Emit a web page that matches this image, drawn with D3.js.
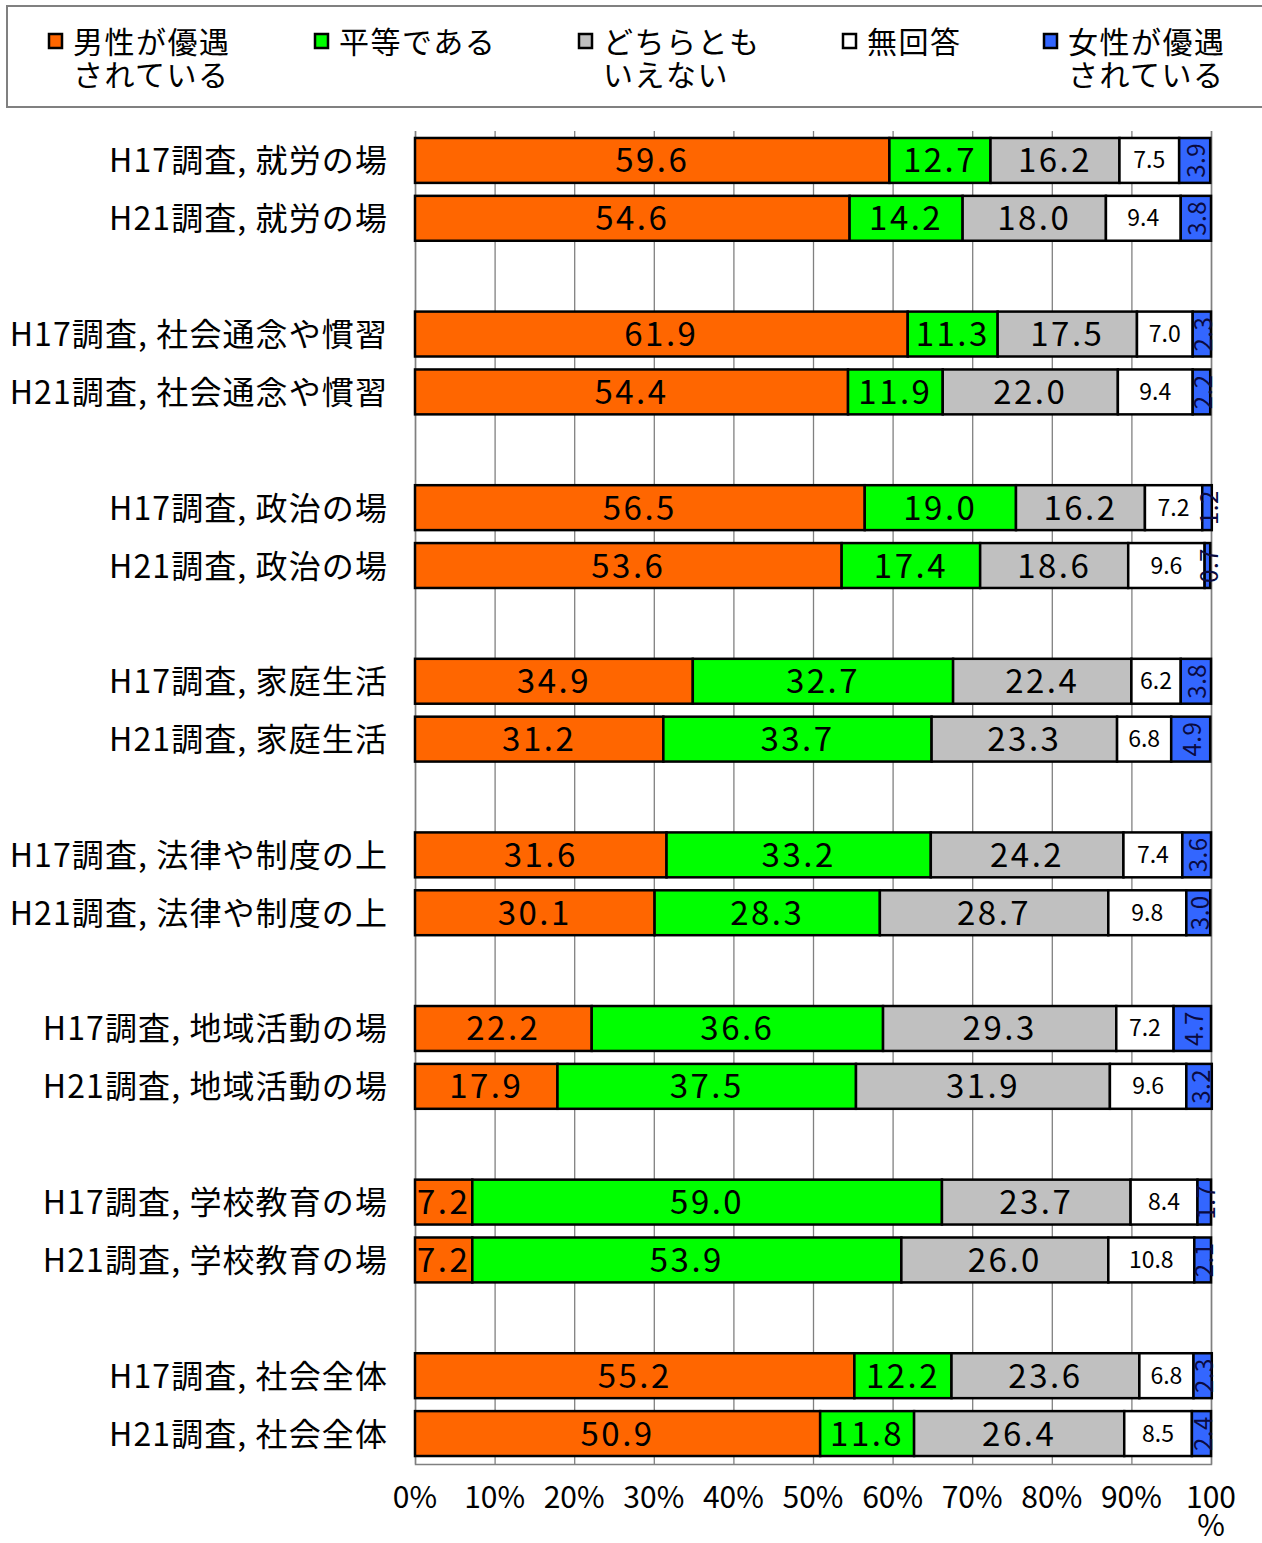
<!DOCTYPE html>
<html lang="ja">
<head>
<meta charset="utf-8">
<script src="https://cdn.jsdelivr.net/npm/d3@7"></script>
<style>
  html, body { margin: 0; padding: 0; background: #fff; }
  svg { display: block; font-family: "Noto Sans CJK JP", "Noto Sans", sans-serif; }
</style>
</head>
<body>
<svg id="chart" width="1262" height="1543"></svg>
<script>
// Survey rows (H17 / H21 pairs for each area)
const categories = [
  "H17調査, 就労の場", "H21調査, 就労の場",
  "H17調査, 社会通念や慣習", "H21調査, 社会通念や慣習",
  "H17調査, 政治の場", "H21調査, 政治の場",
  "H17調査, 家庭生活", "H21調査, 家庭生活",
  "H17調査, 法律や制度の上", "H21調査, 法律や制度の上",
  "H17調査, 地域活動の場", "H21調査, 地域活動の場",
  "H17調査, 学校教育の場", "H21調査, 学校教育の場",
  "H17調査, 社会全体", "H21調査, 社会全体"
];

// Response shares (%)
const maleFavored   = [59.6, 54.6, 61.9, 54.4, 56.5, 53.6, 34.9, 31.2, 31.6, 30.1, 22.2, 17.9, 7.2, 7.2, 55.2, 50.9];
const equal         = [12.7, 14.2, 11.3, 11.9, 19.0, 17.4, 32.7, 33.7, 33.2, 28.3, 36.6, 37.5, 59.0, 53.9, 12.2, 11.8];
const neither       = [16.2, 18.0, 17.5, 22.0, 16.2, 18.6, 22.4, 23.3, 24.2, 28.7, 29.3, 31.9, 23.7, 26.0, 23.6, 26.4];
const noAnswer      = [7.5, 9.4, 7.0, 9.4, 7.2, 9.6, 6.2, 6.8, 7.4, 9.8, 7.2, 9.6, 8.4, 10.8, 6.8, 8.5];
const femaleFavored = [3.9, 3.8, 2.3, 2.2, 1.2, 0.7, 3.8, 4.9, 3.6, 3.0, 4.7, 3.2, 1.7, 2.1, 2.3, 2.4];

const seriesNames = [["男性が優遇", "されている"], ["平等である"], ["どちらとも", "いえない"], ["無回答"], ["女性が優遇", "されている"]];
const seriesValues = [maleFavored, equal, neither, noAnswer, femaleFavored];
const seriesColors = ["#FF6600", "#00FF00", "#C0C0C0", "#FFFFFF", "#3366FF"];

const xTicks = [0, 10, 20, 30, 40, 50, 60, 70, 80, 90, 100];

const svg = d3.select("#chart");

// ---- legend ----
const legend = svg.append("g");
legend.append("rect")
  .attr("x", 7).attr("y", 6).attr("width", 1262).attr("height", 101)
  .attr("fill", "#fff").attr("stroke", "#808080").attr("stroke-width", 2);

const legendX = [48, 314, 578, 842, 1043];
seriesNames.forEach((lines, i) => {
  const g = legend.append("g").attr("transform", `translate(${legendX[i]},0)`);
  g.append("rect")
    .attr("x", 1).attr("y", 34).attr("width", 13).attr("height", 14)
    .attr("fill", seriesColors[i]).attr("stroke", "#000").attr("stroke-width", 2.5);
  lines.forEach((line, k) => {
    g.append("text").attr("x", 25).attr("y", 53 + k * 33)
      .attr("font-size", 30).attr("letter-spacing", 1.5).attr("fill", "#000")
      .text(line);
  });
});

// ---- plot ----
const x0 = 415, x1 = 1211;
const x = d3.scaleLinear().domain([0, 100]).range([x0, x1]);

// row slots with a blank slot between each pair
const slots = [];
categories.forEach((c, i) => {
  slots.push(c);
  if (i % 2 === 1 && i < categories.length - 1) slots.push("__gap" + i);
});
const y = d3.scaleBand().domain(slots).range([131.5, 1462.5])
  .paddingInner(0.224).paddingOuter(0.112);

const gridTop = 131, axisY = 1464;

// vertical gridlines + bottom axis line
const axis = d3.axisBottom(x).tickValues(xTicks).tickSize(-(axisY - gridTop)).tickFormat("");
const axisG = svg.append("g").attr("transform", `translate(0,${axisY})`).call(axis);
axisG.selectAll("line").attr("stroke", "#808080").attr("stroke-width", 1.3);
axisG.select(".domain").attr("stroke", "#808080").attr("stroke-width", 1.5);

// tick labels
const tl = svg.append("g").attr("font-size", 30).attr("text-anchor", "middle").attr("fill", "#000");
xTicks.forEach(v => {
  if (v === 100) {
    tl.append("text").attr("x", x(v)).attr("y", 1508).text("100");
    tl.append("text").attr("x", x(v)).attr("y", 1536).text("%");
  } else {
    tl.append("text").attr("x", x(v)).attr("y", 1508).text(v + "%");
  }
});

// category labels
svg.append("g").selectAll("text").data(categories).join("text")
  .attr("x", 388).attr("y", d => y(d) + y.bandwidth() / 2 - 2)
  .attr("text-anchor", "end").attr("dominant-baseline", "central")
  .attr("font-size", 32).attr("letter-spacing", 1.1).attr("fill", "#000")
  .text(d => d);

// stacked segments
const rows = categories.map((c, i) => {
  let acc = 0;
  return seriesValues.map((vals, s) => {
    const seg = { cat: c, s, v: vals[i], start: acc, end: acc + vals[i] };
    acc += vals[i];
    return seg;
  });
});
const segs = rows.flat();

svg.append("g").selectAll("rect").data(segs).join("rect")
  .attr("x", d => x(d.start))
  .attr("y", d => y(d.cat))
  .attr("width", d => x(d.end) - x(d.start))
  .attr("height", y.bandwidth())
  .attr("fill", d => seriesColors[d.s])
  .attr("stroke", "#000").attr("stroke-width", 2.5);

// value labels
const lab = svg.append("g");
segs.forEach(d => {
  const cx = (x(d.start) + x(d.end)) / 2;
  const cy = y(d.cat) + y.bandwidth() / 2;
  const txt = d.v.toFixed(1);
  if (d.s === 4) {
    lab.append("text")
      .attr("transform", `translate(${cx},${cy}) rotate(-90)`)
      .attr("text-anchor", "middle").attr("dominant-baseline", "central")
      .attr("font-size", 24).attr("letter-spacing", 0.5).attr("fill", "#0a0a40")
      .text(txt);
  } else {
    lab.append("text")
      .attr("x", cx).attr("y", cy - 2)
      .attr("text-anchor", "middle").attr("dominant-baseline", "central")
      .attr("font-size", d.s === 3 ? 23 : 33)
      .attr("letter-spacing", d.s === 3 ? 0 : 2.5)
      .attr("fill", "#000")
      .text(txt);
  }
});
</script>
</body>
</html>
